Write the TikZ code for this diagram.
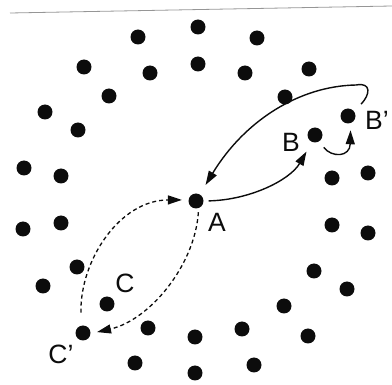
\documentclass[tikz,border=0pt]{standalone}
\usepackage{fontspec}
\setmainfont{Liberation Sans}
\usepackage{tikz}
\usetikzlibrary{arrows.meta}
\definecolor{dotblack}{RGB}{12,12,12}
\definecolor{edgegray}{RGB}{150,150,150}
\tikzset{
  dot/.style={circle, fill=dotblack, draw=none,
    minimum size=15pt, inner sep=0pt},
  lbl/.style={inner sep=0pt, text=dotblack,
    font=\fontsize{26.5}{30}\selectfont},
  arrow/.style={-{Triangle[length=14pt,width=9pt]}, line width=1.4pt, color=dotblack},
  dasharrow/.style={arrow, line width=1.3pt, dash pattern=on 4pt off 3pt},
  edgeline/.style={line width=0.8pt, color=edgegray}
}
\begin{document}
\begin{tikzpicture}[x=1pt, y=-1pt]
  \useasboundingbox (0,0) rectangle (392,385);
  \draw[edgeline] (10,13) -- (392,6);
  % unlabelled dots
  \foreach \px/\py [count=\i] in {138/37, 198/27, 257/38,
      84/67, 150/73, 198/64, 245/73, 309/69,
      109/96, 285/97, 45/112, 78/130,
      24/168, 61/176, 332/178, 368/173,
      23/229, 61/223, 332/225, 368/233,
      77/267, 314/271, 43/286, 347/289, 284/306,
      148/328, 242/329, 195/337, 308/336,
      135/363, 195/373, 254/365}
    \node[dot] (d\i) at (\px,\py) {};
  % labelled dots
  \node[dot] (A)  at (196,201) {};
  \node[dot] (B)  at (315,135) {};
  \node[dot] (Bp) at (348,116) {};
  \node[dot] (C)  at (107,304) {};
  \node[dot] (Cp) at (83,333)  {};
  \node[lbl] (lblA)  at (217,222) {A};
  \node[lbl] (lblB)  at (291,142) {B};
  \node[lbl] (lblBp) at (377,120) {B'};
  \node[lbl] (lblC)  at (125,283) {C};
  \node[lbl] (lblCp) at (61,354)  {C'};
  % solid moves
  \draw[arrow, shorten <=5pt, shorten >=11pt]
    (A.east) .. controls (250,200) and (290,180) .. (B.247);
  \draw[arrow, shorten <=7.5pt, shorten >=7pt]
    (B.-58) .. controls (332,158) and (350,157) .. (Bp.-70);
  \draw[arrow, shorten <=10pt, shorten >=11pt]
    (Bp.38) .. controls (370,95) and (372,82) .. (356,85)
    .. controls (300,86) and (245,120) .. (A.60);
  % dashed moves
  \draw[dasharrow, shorten <=13pt, shorten >=6.5pt]
    (Cp.104) .. controls (80,260) and (120,200) .. (A.172);
  \draw[dasharrow, shorten <=4pt, shorten >=6.5pt]
    (A.-70) .. controls (195,265) and (150,320) .. (Cp.-4);
\end{tikzpicture}
\end{document}
